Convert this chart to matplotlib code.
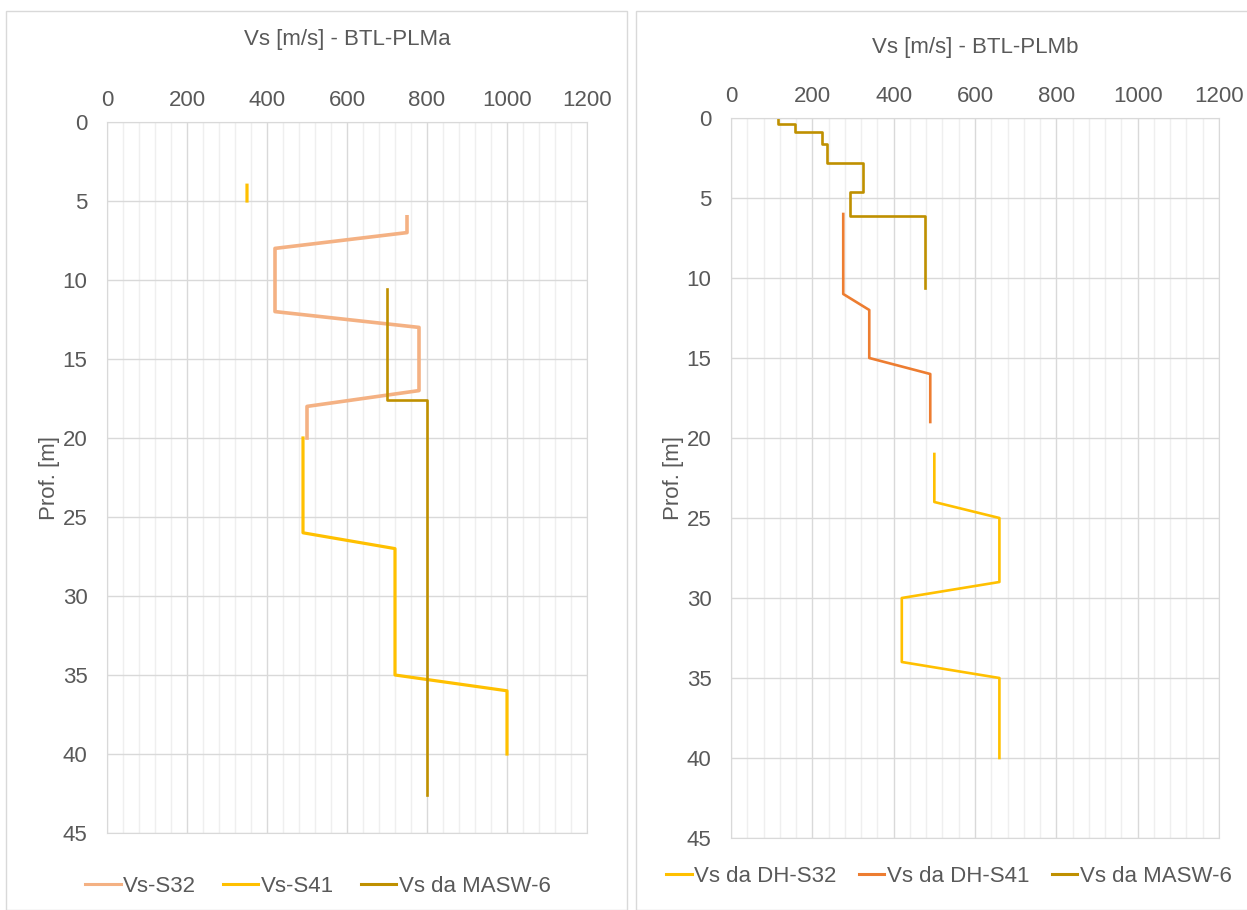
"""Vs profiles vs depth for BTL-PLMa and BTL-PLMb."""

import matplotlib

matplotlib.use("Agg")
import matplotlib.pyplot as plt
import numpy as np
from matplotlib.patches import Rectangle
from matplotlib.ticker import MultipleLocator

plt.rcParams["font.family"] = ["Liberation Sans", "DejaVu Sans"]

TEXT = "#595959"
GRID = "#D9D9D9"
GRID_MINOR = "#EFEFEF"
FS = 16

# --- BTL-PLMa ---
a_s32_vs = [750, 750, 420, 420, 780, 780, 500, 500]
a_s32_z = [6, 7, 8, 12, 13, 17, 18, 20]
a_s41_vs = [350, 350, np.nan, 490, 490, 720, 720, 1000, 1000]
a_s41_z = [4, 5, np.nan, 20, 26, 27, 35, 36, 40]
a_masw_vs = [700, 700, 800, 800]
a_masw_z = [10.6, 17.6, 17.6, 42.6]

# --- BTL-PLMb ---
b_s32_vs = [500, 500, 660, 660, 420, 420, 660, 660]
b_s32_z = [21, 24, 25, 29, 30, 34, 35, 40]
b_s41_vs = [276, 276, 340, 340, 490, 490]
b_s41_z = [6, 11, 12, 15, 16, 19]
b_masw_vs = [116, 116, 157, 157, 223, 223, 237, 237, 324, 324, 293, 293, 477, 477]
b_masw_z = [0, 0.4, 0.4, 0.9, 0.9, 1.6, 1.6, 2.8, 2.8, 4.6, 4.6, 6.1, 6.1, 10.6]

W, H = 1247, 910
fig = plt.figure(figsize=(W / 100, H / 100), dpi=100)

# panel frames
for x0, x1 in [(6, 627), (636, 1252)]:
    fig.patches.append(
        Rectangle((x0 / W, 0), (x1 - x0) / W, 1 - 11 / H, transform=fig.transFigure,
                  fill=False, edgecolor=GRID, lw=1.0)
    )


def setup(ax, title, title_y):
    ax.set_xlim(0, 1200)
    ax.set_ylim(45, 0)
    ax.xaxis.tick_top()
    ax.xaxis.set_major_locator(MultipleLocator(200))
    ax.xaxis.set_minor_locator(MultipleLocator(40))
    ax.yaxis.set_major_locator(MultipleLocator(5))
    ax.grid(which="major", color=GRID, lw=1.0)
    ax.grid(which="minor", axis="x", color=GRID_MINOR, lw=1.0)
    ax.set_axisbelow(True)
    ax.tick_params(which="both", length=0, labelsize=FS, colors=TEXT)
    ax.tick_params(axis="x", pad=8)
    ax.tick_params(axis="y", pad=14)
    for s in ax.spines.values():
        s.set_color(GRID)
    ax.set_ylabel("Prof. [m]", fontsize=FS, color=TEXT, labelpad=2)
    pos = ax.get_position()
    fig.text(pos.x0 + pos.width / 2, 1 - title_y / H, title,
             ha="center", va="center", fontsize=FS, color=TEXT)


def legend(ax, cx, cy, hlen, colsp):
    leg = ax.legend(loc="center", bbox_to_anchor=(cx / W, 1 - cy / H),
                    bbox_transform=fig.transFigure, ncol=3, frameon=False,
                    fontsize=FS, labelcolor=TEXT, handlelength=hlen,
                    handletextpad=0.12, columnspacing=colsp)
    for line in leg.get_lines():
        line.set_linewidth(2.2)


ax1 = fig.add_axes([107 / W, 1 - 833 / H, 480 / W, 711 / H])
setup(ax1, "Vs [m/s] - BTL-PLMa", 40)
ax1.plot(a_s32_vs, a_s32_z, color="#F4B183", lw=2.6, label="Vs-S32")
ax1.plot(a_s41_vs, a_s41_z, color="#FFC000", lw=2.3, label="Vs-S41")
ax1.plot(a_masw_vs, a_masw_z, color="#BF9000", lw=1.9, label="Vs da MASW-6")
legend(ax1, 318, 886, 1.6, 1.2)

ax2 = fig.add_axes([731 / W, 1 - 838 / H, 488 / W, 720 / H])
setup(ax2, "Vs [m/s] - BTL-PLMb", 47)
ax2.plot(b_s32_vs, b_s32_z, color="#FFC000", lw=1.9, label="Vs da DH-S32")
ax2.plot(b_s41_vs, b_s41_z, color="#ED7D31", lw=1.9, label="Vs da DH-S41")
ax2.plot(b_masw_vs, b_masw_z, color="#BF9000", lw=1.9, label="Vs da MASW-6")
legend(ax2, 949, 876, 1.15, 1.0)

fig.savefig("out.png", dpi=100)
